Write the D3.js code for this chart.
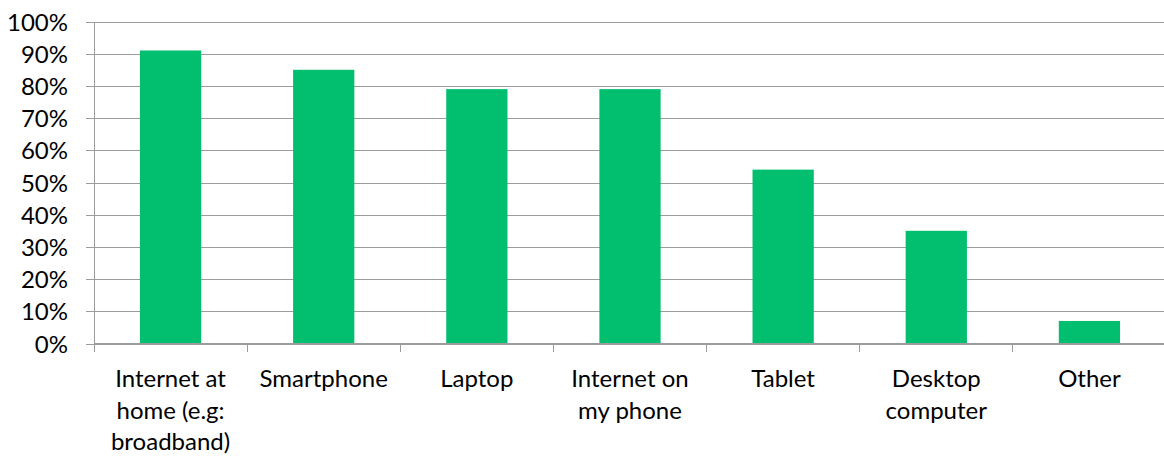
<!DOCTYPE html>
<html>
<head>
<meta charset="utf-8">
<script src="https://cdn.jsdelivr.net/npm/d3@7"></script>
<style>
  html, body { margin: 0; padding: 0; background: #fff; }
  svg { display: block; }
  text { font-family: Lato, "Open Sans", sans-serif; fill: #000; }
</style>
</head>
<body>
<svg id="chart" width="1164" height="457"></svg>
<script>
// Device / service ownership, share of respondents
const categories = [
  "Internet at\nhome (e.g:\nbroadband)",
  "Smartphone",
  "Laptop",
  "Internet on\nmy phone",
  "Tablet",
  "Desktop\ncomputer",
  "Other"
];
const values = [0.91, 0.85, 0.79, 0.79, 0.54, 0.35, 0.07];
const yTicks = [0, 0.1, 0.2, 0.3, 0.4, 0.5, 0.6, 0.7, 0.8, 0.9, 1.0];

const svg = d3.select("#chart");
const margin = { left: 94, top: 21.5, right: 1166, bottom: 343.5 };
const gridColor = "#9c9c9c";
const barColor = "#02bf6f";
const fontSize = 24;

const x = d3.scaleBand()
  .domain(categories)
  .range([margin.left, margin.right])
  .paddingInner(0.6)
  .paddingOuter(0.3);

const y = d3.scaleLinear()
  .domain([0, 1])
  .range([margin.bottom, margin.top]);

// horizontal gridlines with short ticks left of the axis
const yAxis = d3.axisLeft(y)
  .tickValues(yTicks)
  .tickFormat(d3.format(".0%"))
  .tickSize(-(margin.right - margin.left))
  .tickPadding(0);

const gy = svg.append("g")
  .attr("transform", `translate(${margin.left},0)`)
  .call(yAxis);
gy.select(".domain").remove();
gy.selectAll(".tick line")
  .attr("x1", -8)
  .attr("stroke", gridColor)
  .attr("shape-rendering", "crispEdges");
gy.selectAll(".tick text")
  .attr("x", -26)
  .attr("dy", "0.36em")
  .attr("font-size", fontSize)
  .attr("font-family", "Lato, 'Open Sans', sans-serif")
  .attr("fill", "#000");

// vertical value axis line
svg.append("line")
  .attr("x1", margin.left).attr("x2", margin.left)
  .attr("y1", margin.top).attr("y2", margin.bottom + 8)
  .attr("stroke", gridColor)
  .attr("shape-rendering", "crispEdges");

// bars
svg.append("g")
  .selectAll("rect")
  .data(values)
  .join("rect")
  .attr("x", (d, i) => x(categories[i]))
  .attr("width", x.bandwidth())
  .attr("y", d => y(d))
  .attr("height", d => y(0) - y(d))
  .attr("fill", barColor);

// category boundary ticks below the baseline
const step = x.step();
const boundaries = d3.range(categories.length + 1).map(i => margin.left + i * step);
svg.append("g")
  .selectAll("line")
  .data(boundaries)
  .join("line")
  .attr("x1", d => d).attr("x2", d => d)
  .attr("y1", margin.bottom).attr("y2", margin.bottom + 8)
  .attr("stroke", gridColor)
  .attr("shape-rendering", "crispEdges");

// baseline
svg.append("line")
  .attr("x1", margin.left).attr("x2", margin.right)
  .attr("y1", y(0)).attr("y2", y(0))
  .attr("stroke", gridColor)
  .attr("shape-rendering", "crispEdges");

// wrapped category labels
const lineHeight = 31.5;
const labels = svg.append("g")
  .selectAll("text")
  .data(categories)
  .join("text")
  .attr("text-anchor", "middle")
  .attr("font-size", fontSize)
  .attr("x", d => x(d) + x.bandwidth() / 2)
  .attr("y", 387);
labels.selectAll("tspan")
  .data(d => d.split("\n"))
  .join("tspan")
  .attr("x", function () { return d3.select(this.parentNode).attr("x"); })
  .attr("dy", (d, i) => i === 0 ? 0 : lineHeight)
  .text(d => d);
</script>
</body>
</html>
